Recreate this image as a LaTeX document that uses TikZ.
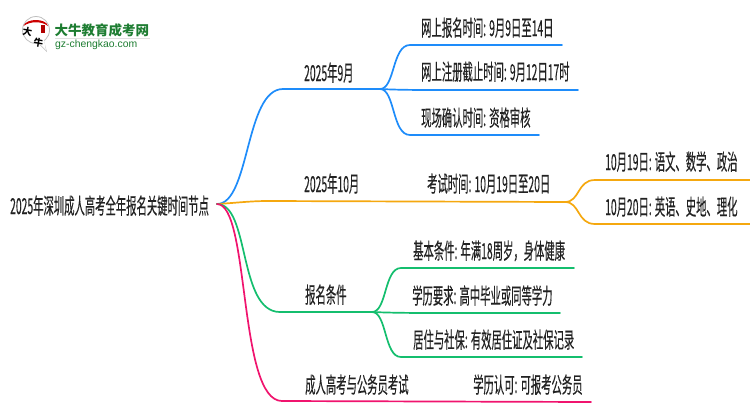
\documentclass[tikz,border=0pt]{standalone}
\usepackage{fontspec}
\setmainfont{Liberation Sans}
\newfontfamily\cjk[FakeStretch=0.47,FakeBold=0.25]{Noto Sans CJK SC}
\newfontfamily\cjklogo{Noto Sans CJK SC}
\definecolor{cblue}{HTML}{1E8CFA}
\definecolor{corange}{HTML}{F5A80F}
\definecolor{cgreen}{HTML}{14BE6E}
\definecolor{cpink}{HTML}{F0146E}
\definecolor{cfont}{HTML}{222222}
\definecolor{logogreen}{HTML}{1E7D32}
\tikzset{
  lbl/.style={inner sep=0pt,anchor=base west,text=cfont,font=\cjk\fontsize{22}{22}\selectfont},
  branch/.style={line width=1.7pt,line cap=round},
}
\begin{document}
\begin{tikzpicture}[x=1pt,y=-1pt]
\useasboundingbox (0,0) rectangle (750,410);
% coordinates
\coordinate (root) at (217,204);
\coordinate (a) at (283,89);   \coordinate (a2) at (380,89);
\coordinate (a1s) at (410,45); \coordinate (a1e) at (562,45);
\coordinate (a2e) at (578,90);
\coordinate (a3s) at (410,135);\coordinate (a3e) at (539,135);
\coordinate (b) at (268,201);  \coordinate (b2) at (565,202);
\coordinate (b1s) at (595,180);\coordinate (b1e) at (750,180);
\coordinate (b2s) at (595,224);\coordinate (b2e) at (750,224);
\coordinate (c) at (280,312);  \coordinate (c2) at (372,312);
\coordinate (c1s) at (401,268);\coordinate (c1e) at (574,268);
\coordinate (c2e) at (560,313);
\coordinate (c3s) at (401,357);\coordinate (c3e) at (582,357);
\coordinate (d) at (282,401);  \coordinate (de) at (591,402);
% branches
\draw[branch,cblue] (root) .. controls (250,204) and (245,89) .. (a) -- (a2);
\draw[branch,cblue] (a2) .. controls (395,89) and (392,45) .. (a1s) -- (a1e);
\draw[branch,cblue] (a2) .. controls (400,90) and (420,90) .. (440,90) -- (a2e);
\draw[branch,cblue] (a2) .. controls (395,89) and (392,135) .. (a3s) -- (a3e);
\draw[branch,corange] (root) .. controls (235,203) and (250,201) .. (b) -- (b2);
\draw[branch,corange] (b2) .. controls (580,202) and (577,180) .. (b1s) -- (b1e);
\draw[branch,corange] (b2) .. controls (580,202) and (577,224) .. (b2s) -- (b2e);
\draw[branch,cgreen] (root) .. controls (250,204) and (238,312) .. (c) -- (c2);
\draw[branch,cgreen] (c2) .. controls (387,312) and (384,268) .. (c1s) -- (c1e);
\draw[branch,cgreen] (c2) .. controls (395,313) and (420,313) .. (440,313) -- (c2e);
\draw[branch,cgreen] (c2) .. controls (387,312) and (384,357) .. (c3s) -- (c3e);
\draw[branch,cpink] (root) .. controls (250,204) and (238,401) .. (d) -- (de);
% labels
\node[lbl] (troot) at (10,214) {2025年深圳成人高考全年报名关键时间节点};
\node[lbl] (t1) at (304,81) {2025年9月};
\node[lbl] (t11) at (421,36) {网上报名时间: 9月9日至14日};
\node[lbl] (t12) at (421,80) {网上注册截止时间: 9月12日17时};
\node[lbl] (t13) at (421,126) {现场确认时间: 资格审核};
\node[lbl] (t2) at (304,192) {2025年10月};
\node[lbl] (t21) at (427,192) {考试时间: 10月19日至20日};
\node[lbl] (t211) at (605,170) {10月19日: 语文、数学、政治};
\node[lbl] (t212) at (605,215) {10月20日: 英语、史地、理化};
\node[lbl] (t3) at (305,303) {报名条件};
\node[lbl] (t31) at (413,259) {基本条件: 年满18周岁，身体健康};
\node[lbl] (t32) at (412,304) {学历要求: 高中毕业或同等学力};
\node[lbl] (t33) at (413,348) {居住与社保: 有效居住证及社保记录};
\node[lbl] (t4) at (305,393) {成人高考与公务员考试};
\node[lbl] (t41) at (473,393) {学历认可: 可报考公务员};
% logo
\fill[white,draw=black!25,line width=0.8pt] (36,30) circle (13.5);
\fill[black!25] (38,43) -- (47,52) -- (44,41) -- cycle;
\fill[white] (37,41) -- (46,50) -- (44,40) -- cycle;
\fill[red!80!black] (23.5,26) .. controls (26,18) and (46,18) .. (48,26) .. controls (42,21) and (30,21) .. cycle;
\fill[red!70!black] (41,25) rectangle (45,33);
\node[inner sep=0pt,text=black,font=\cjklogo\bfseries\fontsize{9.5}{9.5}\selectfont,rotate=-10] (l1) at (27.5,32) {大};
\node[inner sep=0pt,text=black,font=\cjklogo\bfseries\fontsize{9.5}{9.5}\selectfont,rotate=-10] (l2) at (38.5,42.5) {牛};
\node[inner sep=0pt,anchor=west,text=logogreen,font=\cjklogo\bfseries\fontsize{13.5}{13.5}\selectfont] (l3) at (54.5,30) {大牛教育成考网};
\draw[black!12,line width=1pt] (55,38.5) -- (150,38.5);
\node[inner sep=0pt,anchor=west,text=logogreen,font=\fontsize{10.4}{10.4}\selectfont] (l4) at (55,45) {gz-chengkao.com};
\end{tikzpicture}
\end{document}
